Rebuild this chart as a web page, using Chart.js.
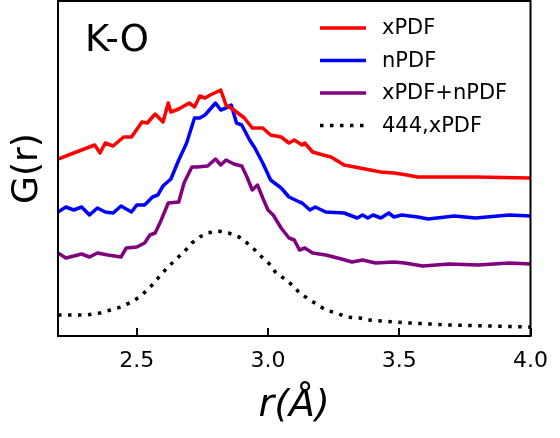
<!DOCTYPE html>
<html><head><meta charset="utf-8">
<script src="https://cdn.jsdelivr.net/npm/chart.js@4/dist/chart.umd.min.js"></script>
<style>html,body{margin:0;padding:0;background:#fff;}</style>
</head><body>
<canvas id="c" width="560" height="438"></canvas>
<script>
// ---- data (G(r) in arbitrary offset units) ----
const seriesLabels = ['xPDF', 'nPDF', 'xPDF+nPDF', '444,xPDF'];
const panelLabel = 'K-O';
const xTickValues = [2.5, 3.0, 3.5, 4.0];

const xpdfR = [2.20,2.26,2.31,2.34,2.36,2.38,2.41,2.45,2.48,2.52,2.54,2.57,2.60,2.62,2.63,2.66,2.70,2.72,2.74,2.76,2.78,2.82,2.84,2.87,2.91,2.94,2.98,3.01,3.05,3.08,3.10,3.13,3.14,3.17,3.21,3.24,3.29,3.33,3.37,3.43,3.48,3.53,3.57,3.66,3.79,4.00];
const xpdfG = [1.77,1.83,1.88,1.91,1.83,1.93,1.90,1.99,1.99,2.14,2.13,2.22,2.14,2.33,2.24,2.27,2.33,2.29,2.40,2.38,2.41,2.46,2.31,2.26,2.18,2.08,2.08,2.01,1.99,1.93,1.96,1.91,1.93,1.84,1.81,1.79,1.71,1.69,1.67,1.64,1.63,1.61,1.59,1.59,1.59,1.58];

const npdfR = [2.20,2.23,2.26,2.29,2.32,2.35,2.38,2.41,2.44,2.48,2.50,2.53,2.56,2.58,2.60,2.63,2.66,2.69,2.72,2.74,2.76,2.80,2.82,2.84,2.86,2.88,2.90,2.93,2.95,2.98,3.01,3.05,3.08,3.12,3.13,3.16,3.18,3.22,3.29,3.34,3.36,3.38,3.40,3.43,3.46,3.48,3.51,3.57,3.61,3.71,3.79,3.92,4.00];
const npdfG = [1.24,1.29,1.26,1.29,1.21,1.28,1.24,1.23,1.30,1.24,1.31,1.31,1.39,1.41,1.50,1.57,1.76,1.93,2.18,2.18,2.21,2.33,2.26,2.28,2.31,2.13,2.11,1.96,1.88,1.73,1.56,1.48,1.39,1.34,1.33,1.26,1.29,1.24,1.23,1.18,1.21,1.18,1.21,1.18,1.23,1.19,1.21,1.19,1.17,1.20,1.18,1.21,1.20];

const bothR = [2.20,2.23,2.29,2.32,2.35,2.39,2.44,2.46,2.50,2.53,2.55,2.57,2.59,2.62,2.66,2.68,2.71,2.73,2.77,2.80,2.82,2.84,2.87,2.90,2.92,2.94,2.96,2.98,3.00,3.02,3.05,3.08,3.10,3.12,3.14,3.17,3.22,3.28,3.32,3.36,3.41,3.48,3.52,3.59,3.69,3.80,3.92,4.00];
const bothG = [0.83,0.78,0.82,0.79,0.83,0.81,0.79,0.88,0.89,0.93,1.01,1.03,1.14,1.33,1.34,1.53,1.69,1.69,1.70,1.77,1.71,1.76,1.72,1.70,1.59,1.46,1.51,1.38,1.26,1.21,1.08,0.98,0.96,0.86,0.88,0.83,0.81,0.77,0.74,0.76,0.73,0.74,0.73,0.70,0.72,0.71,0.73,0.72];

const simR = [2.20,2.23,2.31,2.36,2.40,2.44,2.48,2.51,2.54,2.57,2.59,2.62,2.65,2.68,2.71,2.74,2.77,2.81,2.85,2.89,2.92,2.95,2.98,3.01,3.03,3.07,3.10,3.12,3.16,3.19,3.22,3.26,3.30,3.35,3.38,3.43,3.48,3.54,3.69,3.84,4.00];
const simG = [0.21,0.21,0.21,0.23,0.26,0.29,0.34,0.39,0.46,0.54,0.61,0.69,0.77,0.84,0.93,0.99,1.03,1.05,1.03,0.99,0.93,0.86,0.78,0.71,0.63,0.56,0.49,0.43,0.36,0.31,0.26,0.23,0.19,0.18,0.16,0.15,0.14,0.13,0.11,0.10,0.09];

const yMin = 0, yMax = 3.35, xMin = 2.2, xMax = 4.0;

function pts(xs, ys){ return xs.map((x,i)=>({x:x, y:ys[i]})); }

const FONT = '"DejaVu Sans", "Liberation Sans", sans-serif';

const decorPlugin = {
  id: 'decor',
  afterDraw(chart){
    const ctx = chart.ctx, a = chart.chartArea, xs = chart.scales.x;
    ctx.save();
    // inward ticks
    ctx.strokeStyle = '#000'; ctx.lineWidth = 2;
    xTickValues.forEach(v=>{
      const px = Math.round(xs.getPixelForValue(v));
      ctx.beginPath(); ctx.moveTo(px, a.bottom); ctx.lineTo(px, a.bottom-8); ctx.stroke();
    });
    // frame
    ctx.strokeRect(a.left, a.top, a.right-a.left, a.bottom-a.top);
    // panel label
    ctx.fillStyle = '#000';
    ctx.font = '37px ' + FONT;
    ctx.textBaseline = 'alphabetic'; ctx.textAlign = 'left';
    ctx.fillText(panelLabel, a.left + 27, a.top + 50);
    // legend
    ctx.font = '21px ' + FONT;
    ctx.textBaseline = 'middle';
    chart.data.datasets.forEach((ds, i)=>{
      const y = a.top + 27 + i*32.5;
      ctx.beginPath();
      ctx.strokeStyle = ds.borderColor; ctx.lineWidth = ds.borderWidth;
      ctx.setLineDash(ds.borderDash || []);
      ctx.lineCap = 'butt';
      ctx.moveTo(a.left + 262, y); ctx.lineTo(a.left + 308, y); ctx.stroke();
      ctx.setLineDash([]);
      ctx.fillStyle = '#000';
      ctx.fillText(ds.label, a.left + 324, y + 1);
    });
    ctx.restore();
  }
};

new Chart(document.getElementById('c'), {
  type: 'line',
  data: {
    datasets: [
      {label: seriesLabels[0], data: pts(xpdfR, xpdfG), borderColor: '#ff0000', borderWidth: 3.5},
      {label: seriesLabels[1], data: pts(npdfR, npdfG), borderColor: '#0000ff', borderWidth: 3.5},
      {label: seriesLabels[2], data: pts(bothR, bothG), borderColor: '#800080', borderWidth: 3.5},
      {label: seriesLabels[3], data: pts(simR, simG), borderColor: '#000000', borderWidth: 3.5, borderDash: [3.5, 6.5]}
    ]
  },
  options: {
    responsive: false, animation: false, devicePixelRatio: 1,
    layout: {padding: {top: 1, right: 28, bottom: 0, left: 0}},
    elements: {point: {radius: 0}, line: {tension: 0, borderJoinStyle: 'round'}},
    plugins: {legend: {display: false}, tooltip: {enabled: false}},
    scales: {
      x: {
        type: 'linear', min: xMin, max: xMax,
        grid: {display: false, drawTicks: false}, border: {display: false},
        afterBuildTicks(s){ s.ticks = xTickValues.map(v=>({value: v})); },
        afterFit(s){ s.height = 102; },
        ticks: {color: '#000', padding: 12, font: {family: FONT, size: 22}, maxRotation: 0,
                callback: v => Number(v).toFixed(1)},
        title: {display: true, text: 'r(Å)', color: '#000',
                font: {family: FONT, size: 38, style: 'italic'}, padding: {top: 0, bottom: 9}}
      },
      y: {
        type: 'linear', min: yMin, max: yMax,
        grid: {display: false, drawTicks: false}, border: {display: false},
        ticks: {display: false},
        afterFit(s){ s.width = 58; },
        title: {display: true, text: 'G(r)', color: '#000',
                font: {family: FONT, size: 36}, padding: {top: 6, bottom: 0}}
      }
    }
  },
  plugins: [decorPlugin]
});
</script>
</body></html>
